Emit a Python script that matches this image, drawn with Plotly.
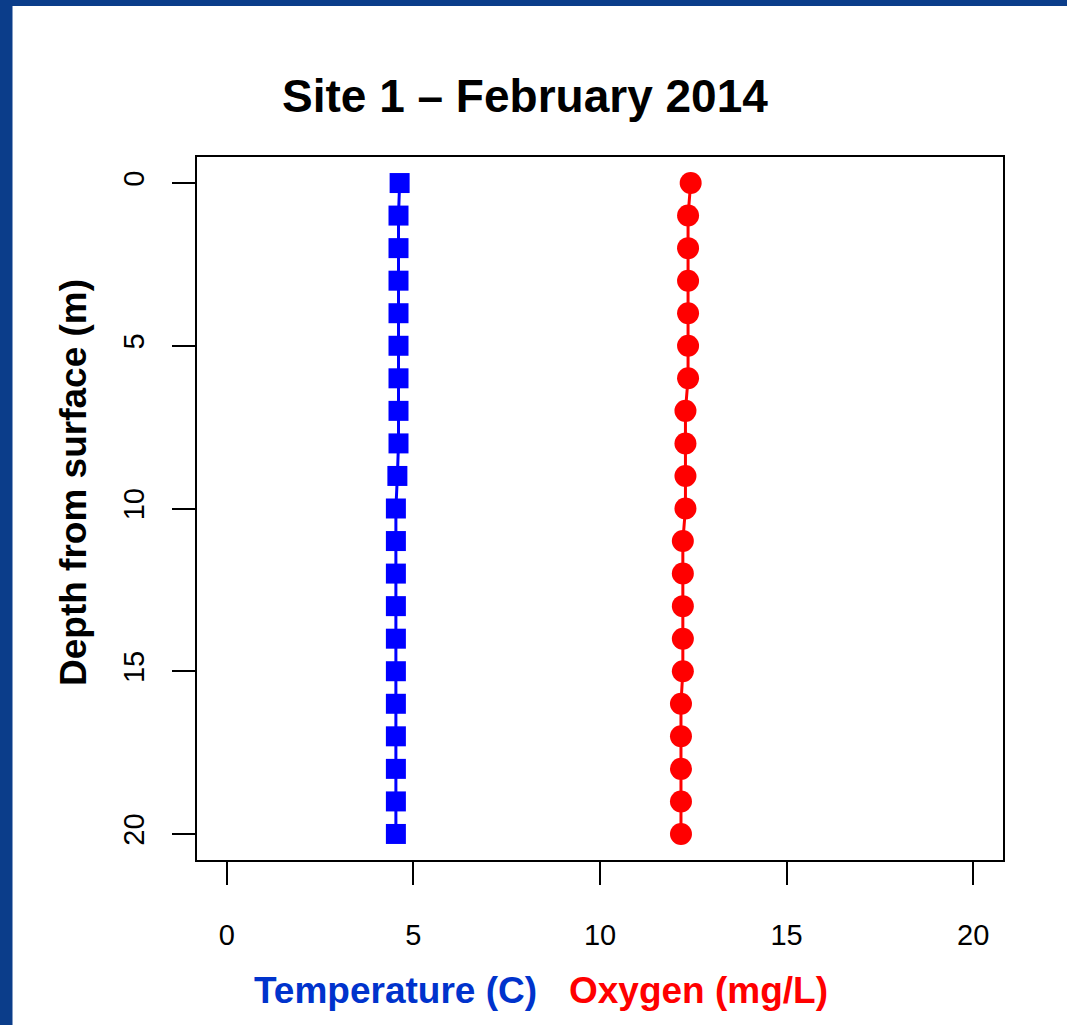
import plotly.graph_objects as go

# Profile data: depth below surface (m)
depth = list(range(0, 21))
temperature_c = [4.63, 4.60, 4.60, 4.60, 4.60, 4.60, 4.60, 4.60, 4.60, 4.57, 4.53,
                 4.53, 4.53, 4.53, 4.53, 4.53, 4.53, 4.53, 4.53, 4.53, 4.53]
oxygen_mgl = [12.43, 12.36, 12.36, 12.36, 12.36, 12.36, 12.36, 12.29, 12.29, 12.29, 12.29,
              12.22, 12.22, 12.22, 12.22, 12.22, 12.17, 12.17, 12.17, 12.17, 12.17]

x_ticks = [0, 5, 10, 15, 20]
y_ticks = [0, 5, 10, 15, 20]

FONT = "Liberation Sans, Arial, sans-serif"
TEMP_TITLE_COLOR = "#0033cc"
OXY_COLOR = "#ff0000"
FRAME_COLOR = "#0b3d8a"

fig = go.Figure()
fig.add_trace(go.Scatter(
    x=temperature_c, y=depth, mode="lines+markers",
    line=dict(color="#0000ff", width=3),
    marker=dict(symbol="square", size=20, color="#0000ff"),
    showlegend=False,
))
fig.add_trace(go.Scatter(
    x=oxygen_mgl, y=depth, mode="lines+markers",
    line=dict(color=OXY_COLOR, width=3),
    marker=dict(symbol="circle", size=22, color=OXY_COLOR),
    showlegend=False,
))

W, H = 1067, 1025
L, R, T, B = 197, 64, 157, 165
pw, ph = W - L - R, H - T - B


def px_x(p):
    return (p - L) / pw


def px_y(p):
    return (H - B - p) / ph


axis_common = dict(
    showgrid=False, zeroline=False,
    showline=True, linecolor="black", linewidth=2, mirror=True,
    ticks="outside", ticklen=23, tickwidth=2, tickcolor="black",
    tickfont=dict(family=FONT, size=29, color="black"),
)

fig.update_xaxes(range=[-0.8, 20.8], tickvals=x_ticks, ticklabelstandoff=25, **axis_common)
fig.update_yaxes(range=[20.8, -0.8], tickvals=y_ticks, tickangle=-90,
                 ticklabelstandoff=16, **axis_common)

annotations = [
    dict(text="Site 1 \u2013 February 2014", x=px_x(524.5), y=px_y(95.5),
         font=dict(family=FONT, size=46, color="black", weight="bold")),
    dict(text="Depth from surface (m)", x=px_x(73), y=px_y(483), textangle=-90,
         font=dict(family=FONT, size=37, color="black", weight="bold")),
    dict(text="Temperature (C)", x=px_x(395.7), y=px_y(990),
         font=dict(family=FONT, size=37, color=TEMP_TITLE_COLOR, weight="bold")),
    dict(text="Oxygen (mg/L)", x=px_x(698.3), y=px_y(990),
         font=dict(family=FONT, size=37, color=OXY_COLOR, weight="bold")),
]
for a in annotations:
    a.update(xref="paper", yref="paper", showarrow=False, xanchor="center", yanchor="middle")

# Slide frame along the left and top edges
shapes = [
    dict(type="rect", xref="paper", yref="paper", x0=px_x(0), x1=px_x(12.5),
         y0=px_y(H), y1=px_y(0), fillcolor=FRAME_COLOR, line_width=0, layer="above"),
    dict(type="rect", xref="paper", yref="paper", x0=px_x(0), x1=px_x(W),
         y0=px_y(6), y1=px_y(0), fillcolor=FRAME_COLOR, line_width=0, layer="above"),
]

fig.update_layout(
    width=W, height=H,
    margin=dict(l=L, r=R, t=T, b=B, pad=0),
    paper_bgcolor="white", plot_bgcolor="white",
    annotations=annotations, shapes=shapes,
    font=dict(family=FONT),
)

fig.write_html("out.html")
